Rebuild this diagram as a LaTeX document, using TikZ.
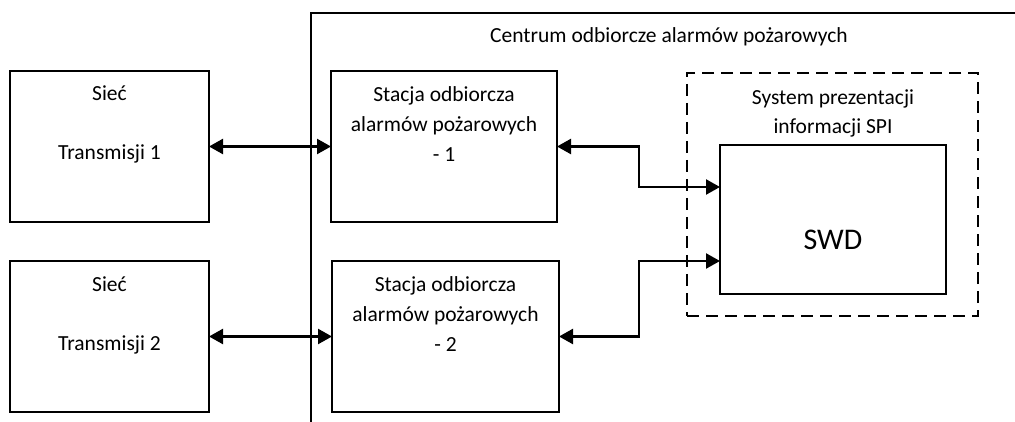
\documentclass[tikz,border=0pt]{standalone}
\usepackage{fontspec}
\setmainfont{Carlito}
\usetikzlibrary{arrows.meta}
\begin{document}
\begin{tikzpicture}[x=1pt,y=-1pt,
  block/.style={draw, line width=1.5pt, inner sep=0pt, outer sep=0pt},
  txt/.style={font=\fontsize{21.5}{30}\selectfont, align=center, anchor=base, inner sep=0pt},
  link/.style={line width=2.3pt,
    {Triangle[length=14pt,width=15pt]}-{Triangle[length=14pt,width=15pt]}},
]
\useasboundingbox (0,0) rectangle (1015,422);

% receiving centre (open frame)
\coordinate (cbl) at (311,422);
\coordinate (ctl) at (311,13);
\coordinate (ctr) at (1015,13);
\draw[line width=1.5pt] (cbl) -- (ctl) -- (ctr);
\node[txt] (centrum) at (669,43) {Centrum odbiorcze alarmów pożarowych};

% transmission networks (anchor = baseline of the last line)
\node[block, minimum width=199pt, minimum height=151pt] (net1) at (109.5,146.5) {};
\node[block, minimum width=199pt, minimum height=151pt] (net2) at (109.5,336.5) {};
\node[txt, font=\fontsize{21.5}{29.5}\selectfont] (net1t) at (109.5,160) {Sieć\\\mbox{}\\Transmisji 1};
\node[txt, font=\fontsize{21.5}{29.5}\selectfont] (net2t) at (109.5,350) {Sieć\\\mbox{}\\Transmisji 2};

% receiving stations
\node[block, minimum width=226pt, minimum height=151pt] (st1) at (444,146.5) {};
\node[block, minimum width=227pt, minimum height=151pt] (st2) at (445.5,336.5) {};
\node[txt] (st1t) at (444,161.5) {Stacja odbiorcza\\alarmów pożarowych\\- 1};
\node[txt] (st2t) at (445.5,351.5) {Stacja odbiorcza\\alarmów pożarowych\\- 2};

% presentation system
\node[draw, line width=1.5pt, dash pattern=on 12pt off 7pt, inner sep=0pt,
      minimum width=291pt, minimum height=243pt] (spi) at (832.5,194.5) {};
\node[txt, font=\fontsize{21.5}{29}\selectfont] (spit) at (833,134) {System prezentacji\\informacji SPI};
\node[block, minimum width=226pt, minimum height=149pt] (swd) at (833,219.5) {};
\node[txt, font=\fontsize{30}{36}\selectfont] (swdt) at (833,250) {SWD};

% connections
\coordinate (bend) at (639,0);
\draw[link] (net1.east) -- (st1.west);
\draw[link] (net2.east) -- (st2.west);
\draw[link] (st1.east) -- (st1.east -| bend) |- ([yshift=32.5pt]swd.west);
\draw[link] (st2.east) -- (st2.east -| bend) |- ([yshift=-41.5pt]swd.west);
\end{tikzpicture}
\end{document}
